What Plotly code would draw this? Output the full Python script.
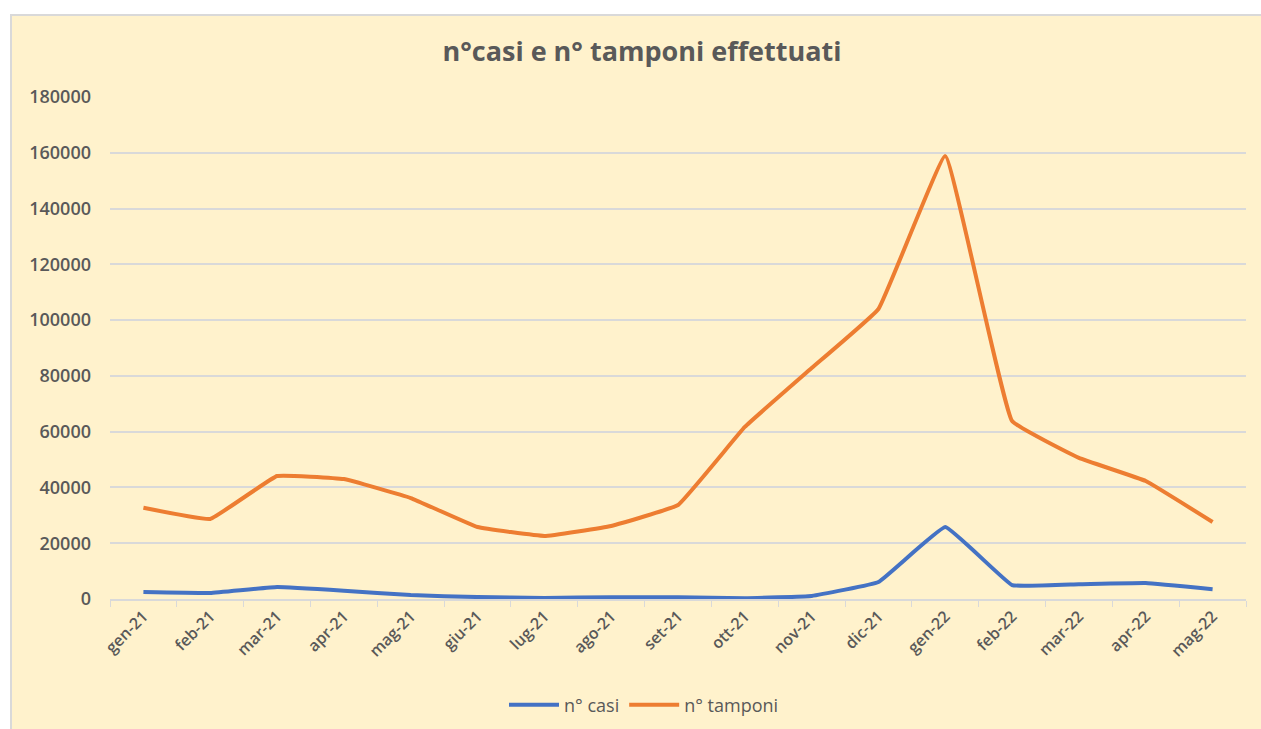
import plotly.graph_objects as go

months = ["gen-21", "feb-21", "mar-21", "apr-21", "mag-21", "giu-21", "lug-21", "ago-21",
          "set-21", "ott-21", "nov-21", "dic-21", "gen-22", "feb-22", "mar-22", "apr-22", "mag-22"]
casi = [2500, 2150, 4300, 3000, 1400, 700, 400, 600, 600, 300, 1100, 6100, 25800, 5000, 5300, 5700, 3500]
tamponi = [32700, 28700, 44100, 43000, 36200, 25800, 22600, 26200, 33700, 61700, 82800, 104000,
           158800, 63800, 50600, 42300, 27600]
y_ticks = [0, 20000, 40000, 60000, 80000, 100000, 120000, 140000, 160000, 180000]

W, H = 1261, 729
L, R, T, B = 110, 15, 97, 130
pw, ph = W - L - R, H - T - B

fig = go.Figure()
fig.add_trace(go.Scatter(x=months, y=casi, name="n° casi", mode="lines",
                         line=dict(color="#4472C4", width=4, shape="spline", smoothing=0.25)))
fig.add_trace(go.Scatter(x=months, y=tamponi, name="n° tamponi", mode="lines",
                         line=dict(color="#ED7D31", width=4, shape="spline", smoothing=0.25)))

# chart area background box
fig.add_shape(type="rect", xref="paper", yref="paper", layer="below",
              x0=(11 - L) / pw, x1=1 + (R + 10) / pw,
              y0=-(B + 10) / ph, y1=1 + (T - 15) / ph,
              fillcolor="#FFF2CC", line=dict(color="#D9D9D9", width=2))

fig.update_layout(
    width=W, height=H,
    margin=dict(l=L, r=R, t=T, b=B, autoexpand=False),
    paper_bgcolor="white",
    plot_bgcolor="rgba(0,0,0,0)",
    font=dict(family="Open Sans", color="#595959"),
    title=dict(text="<b>n°casi e n° tamponi effettuati</b>", x=642 / W, xanchor="center",
               y=1 - 52 / H, yanchor="middle", font=dict(size=27, color="#595959")),
    showlegend=True,
    legend=dict(orientation="h", x=(644 - L) / pw, xanchor="center", y=-(705 - 599) / ph,
                yanchor="middle", itemwidth=50,
                font=dict(size=18, color="#595959", family="Open Sans"), bgcolor="rgba(0,0,0,0)"),
    xaxis=dict(type="category", range=[-0.5, 16.5], tickangle=-45, showgrid=False,
               showline=True, linecolor="#D9D9D9", linewidth=1.5,
               ticks="outside", tickson="boundaries", ticklen=6, tickcolor="#D9D9D9",
               tickfont=dict(size=16, color="#595959", family="Open Sans", weight=600),
               tickvals=months, ticktext=months, fixedrange=True),
    yaxis=dict(range=[0, 180000], tickvals=y_ticks, ticktext=[str(v) for v in y_ticks],
               showgrid=True, gridcolor="#D9D9D9", gridwidth=1.5, zeroline=False,
               showline=False, ticks="", ticklabelstandoff=18,
               tickfont=dict(size=18, color="#595959", family="Open Sans", weight=600)),
)

fig.write_html("out.html", config={"displayModeBar": False},
               post_script="document.body.style.margin='0';document.body.style.overflow='hidden';")
